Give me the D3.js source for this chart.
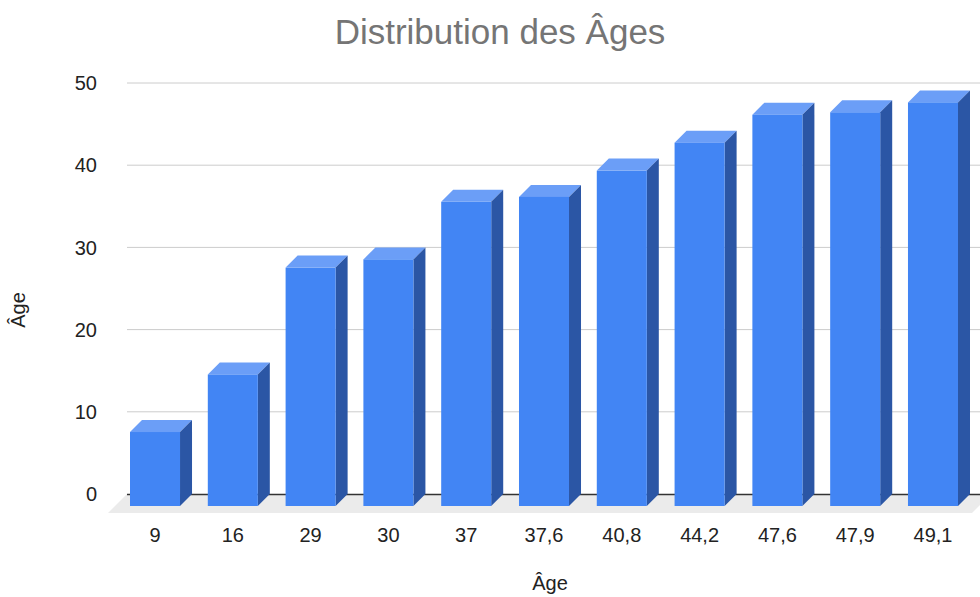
<!DOCTYPE html>
<html>
<head>
<meta charset="utf-8">
<script src="https://cdn.jsdelivr.net/npm/d3@7"></script>
<style>
  body { margin: 0; background: #fff; }
  text { font-family: "Liberation Sans", Arial, sans-serif; }
</style>
</head>
<body>
<svg id="chart"></svg>
<script>
// chart data
var categories = ["9", "16", "29", "30", "37", "37,6", "40,8", "44,2", "47,6", "47,9", "49,1"];
var values = [9, 16, 29, 30, 37, 37.6, 40.8, 44.2, 47.6, 47.9, 49.1];
var yTicks = [0, 10, 20, 30, 40, 50];

var width = 980;
var height = 597;
var depth = 12;      // 3d offset of the bars
var floorDepth = 19; // 3d offset of the floor

var svg = d3.select("svg#chart")
  .attr("width", width)
  .attr("height", height);

var yScale = d3.scaleLinear()
  .domain([0, 50])
  .range([494, 83]);

var xScale = d3.scaleBand()
  .domain(categories)
  .range([116, 972])
  .paddingInner(0.357)
  .paddingOuter(0.18);

var plotLeft = 127;
var floorRight = 972;

// gridlines on the back wall
svg.append("g")
  .selectAll("line")
  .data(yTicks.filter(function(d) { return d > 0; }))
  .enter()
  .append("line")
  .attr("x1", plotLeft)
  .attr("x2", width)
  .attr("y1", function(d) { return yScale(d); })
  .attr("y2", function(d) { return yScale(d); })
  .attr("stroke", "#cccccc")
  .attr("stroke-width", 1);

// y tick labels
svg.append("g")
  .selectAll("text")
  .data(yTicks)
  .enter()
  .append("text")
  .attr("x", 97)
  .attr("y", function(d) { return yScale(d); })
  .attr("dy", "0.36em")
  .attr("text-anchor", "end")
  .style("font-size", "20px")
  .attr("fill", "#222")
  .text(function(d) { return d; });

// floor
var y0 = yScale(0);
svg.append("path")
  .attr("d", "M" + plotLeft + "," + y0 + "H" + (floorRight + floorDepth) +
    "L" + floorRight + "," + (y0 + floorDepth) +
    "H" + (plotLeft - floorDepth) + "Z")
  .attr("fill", "#ebebeb");

svg.append("line")
  .attr("x1", plotLeft)
  .attr("x2", width)
  .attr("y1", y0 + 0.5)
  .attr("y2", y0 + 0.5)
  .attr("stroke", "#333333")
  .attr("stroke-width", 1.5);

// bars
var bw = xScale.bandwidth();
var bars = svg.append("g")
  .selectAll("g.bar")
  .data(values)
  .enter()
  .append("g")
  .attr("class", "bar");

bars.append("path")
  .attr("fill", "#6b9ef7")
  .attr("d", function(d, i) {
    var x = xScale(categories[i]), yf = yScale(d) + depth;
    return "M" + x + "," + yf + "L" + (x + depth) + "," + (yf - depth) +
      "H" + (x + bw + depth) + "L" + (x + bw) + "," + yf + "Z";
  });

bars.append("path")
  .attr("fill", "#2b56a5")
  .attr("d", function(d, i) {
    var x = xScale(categories[i]) + bw, yf = yScale(d) + depth;
    return "M" + x + "," + yf + "L" + (x + depth) + "," + (yf - depth) +
      "V" + y0 + "L" + x + "," + (y0 + depth) + "Z";
  });

bars.append("rect")
  .attr("fill", "#4285f4")
  .attr("x", function(d, i) { return xScale(categories[i]); })
  .attr("y", function(d) { return yScale(d) + depth; })
  .attr("width", bw)
  .attr("height", function(d) { return y0 - yScale(d); });

// x tick labels
svg.append("g")
  .selectAll("text")
  .data(categories)
  .enter()
  .append("text")
  .attr("x", function(d) { return xScale(d) + bw / 2; })
  .attr("y", 542)
  .attr("text-anchor", "middle")
  .style("font-size", "20px")
  .attr("fill", "#222")
  .text(function(d) { return d; });

// titles
svg.append("text")
  .attr("x", 500)
  .attr("y", 44)
  .attr("text-anchor", "middle")
  .style("font-size", "35px")
  .attr("fill", "#757575")
  .text("Distribution des Âges");

svg.append("text")
  .attr("x", 550)
  .attr("y", 590)
  .attr("text-anchor", "middle")
  .style("font-size", "20px")
  .attr("fill", "#222")
  .text("Âge");

svg.append("text")
  .attr("transform", "translate(25, 310) rotate(-90)")
  .attr("text-anchor", "middle")
  .style("font-size", "20px")
  .attr("fill", "#222")
  .text("Âge");
</script>
</body>
</html>
